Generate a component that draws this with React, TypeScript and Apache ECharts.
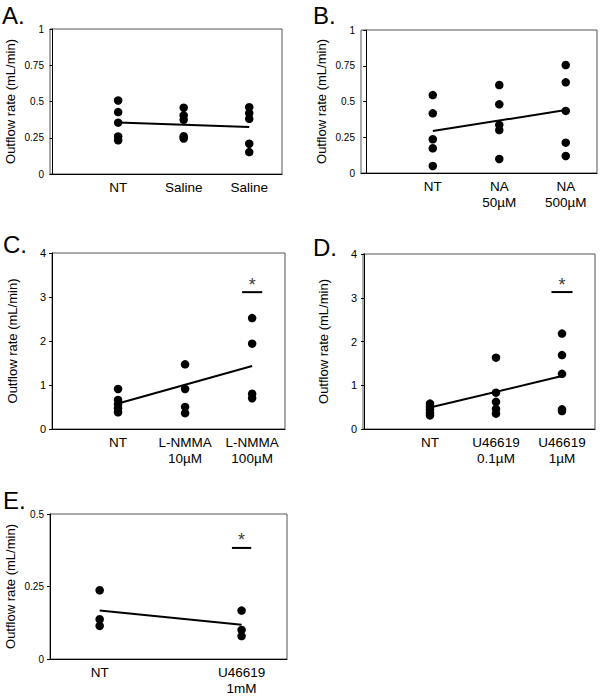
import React, { useEffect, useRef } from "react";
import * as echarts from "echarts";

// ---- Data ----
const catsA = ["NT", "Saline", "Saline"];
const aNT = [0.507, 0.427, 0.354, 0.259, 0.232];
const aSaline1 = [0.457, 0.404, 0.374, 0.26, 0.245];
const aSaline2 = [0.461, 0.42, 0.381, 0.209, 0.151];
const aTrend = [0.356, 0.324];

const catsB = ["NT", "NA\n50µM", "NA\n500µM"];
const bNT = [0.545, 0.417, 0.236, 0.173, 0.049];
const bNA50 = [0.615, 0.48, 0.336, 0.3, 0.098];
const bNA500 = [0.755, 0.634, 0.434, 0.212, 0.119];
const bTrend = [0.294, 0.44];

const catsC = ["NT", "L-NMMA\n10µM", "L-NMMA\n100µM"];
const cNT = [0.91, 0.66, 0.56, 0.47, 0.38];
const cL10 = [1.47, 0.91, 0.5, 0.36];
const cL100 = [2.52, 1.94, 0.8, 0.7];
const cTrend = [0.58, 1.43];
const cSig = 3.11;

const catsD = ["NT", "U46619\n0.1µM", "U46619\n1µM"];
const dNT = [0.58, 0.51, 0.44, 0.37, 0.31];
const dU01 = [1.63, 0.83, 0.62, 0.46, 0.35];
const dU1 = [2.18, 1.69, 1.26, 0.45, 0.41];
const dTrend = [0.49, 1.21];
const dSig = 3.13;

const catsE = ["NT", "U46619\n1mM"];
const eNT = [0.237, 0.137, 0.114];
const eU1mM = [0.167, 0.1, 0.079];
const eTrend = [0.167, 0.118];
const eSig = 0.383;

const yTitle = "Outflow rate (mL/min)";
const FONT = '"Liberation Sans", Arial, Helvetica, sans-serif';

type Panel = {
  letter: string;
  letterPos: [number, number];
  grid: { left: number; top: number; width: number; height: number };
  xMin: number;
  xMax: number;
  yMax: number;
  yInterval: number;
  yFont: number;
  cats: string[];
  groups: number[][];
  trend: number[];
  sig: number | null;
  sigHalf: number;
};

const panels: Panel[] = [
  {
    letter: "A.", letterPos: [2, 15],
    grid: { left: 50, top: 29, width: 232, height: 145 },
    xMin: -0.04, xMax: 3.5, yMax: 1, yInterval: 0.25, yFont: 10,
    cats: catsA, groups: [aNT, aSaline1, aSaline2], trend: aTrend, sig: null, sigHalf: 0,
  },
  {
    letter: "B.", letterPos: [313, 15],
    grid: { left: 361, top: 30, width: 236, height: 143 },
    xMin: -0.08, xMax: 3.47, yMax: 1, yInterval: 0.25, yFont: 10,
    cats: catsB, groups: [bNT, bNA50, bNA500], trend: bTrend, sig: null, sigHalf: 0,
  },
  {
    letter: "C.", letterPos: [3, 244],
    grid: { left: 52, top: 253, width: 233, height: 176 },
    xMin: 0.015, xMax: 3.49, yMax: 4, yInterval: 1, yFont: 11,
    cats: catsC, groups: [cNT, cL10, cL100], trend: cTrend, sig: cSig, sigHalf: 0.15,
  },
  {
    letter: "D.", letterPos: [313, 247],
    grid: { left: 363, top: 254, width: 232, height: 175 },
    xMin: -0.015, xMax: 3.5, yMax: 4, yInterval: 1, yFont: 11,
    cats: catsD, groups: [dNT, dU01, dU1], trend: dTrend, sig: dSig, sigHalf: 0.16,
  },
  {
    letter: "E.", letterPos: [3, 500],
    grid: { left: 50, top: 514, width: 237, height: 150 },
    xMin: 0.65, xMax: 2.32, yMax: 0.5, yInterval: 0.25, yFont: 10,
    cats: catsE, groups: [eNT, eU1mM], trend: eTrend, sig: eSig, sigHalf: 0.068,
  },
];

function buildOption() {
  const grid: any[] = [];
  const xAxis: any[] = [];
  const yAxis: any[] = [];
  const series: any[] = [];
  const graphic: any[] = [];

  panels.forEach((p, i) => {
    grid.push({
      ...p.grid,
      show: true,
      borderColor: "#555",
      borderWidth: 1,
      backgroundColor: "transparent",
    });
    const catValues = p.cats.map((_, k) => k + 1);
    xAxis.push({
      type: "value",
      gridIndex: i,
      min: p.xMin,
      max: p.xMax,
      axisLine: { show: true, onZero: false, lineStyle: { color: "#000", width: 1 } },
      axisTick: { show: false },
      splitLine: { show: false },
      axisLabel: {
        customValues: catValues,
        formatter: (v: number) => p.cats[Math.round(v) - 1] ?? "",
        color: "#000",
        fontFamily: FONT,
        fontSize: 13.5,
        lineHeight: 16,
        margin: 5,
      },
    });
    yAxis.push({
      type: "value",
      gridIndex: i,
      min: 0,
      max: p.yMax,
      interval: p.yInterval,
      name: yTitle,
      nameLocation: "middle",
      nameRotate: 90,
      nameGap: 33,
      nameTextStyle: { color: "#000", fontFamily: FONT, fontSize: 13 },
      axisLine: { show: true, lineStyle: { color: "#000", width: 1 } },
      axisTick: { show: true, length: 3, lineStyle: { color: "#000" } },
      splitLine: { show: false },
      axisLabel: { color: "#000", fontFamily: FONT, fontSize: p.yFont, margin: 6 },
    });

    p.groups.forEach((vals, k) => {
      series.push({
        type: "scatter",
        xAxisIndex: i,
        yAxisIndex: i,
        symbol: "circle",
        symbolSize: 8.5,
        itemStyle: { color: "#000", opacity: 1 },
        data: vals.map((v) => [k + 1, v]),
        silent: true,
      });
    });

    series.push({
      type: "line",
      xAxisIndex: i,
      yAxisIndex: i,
      symbol: "none",
      lineStyle: { color: "#000", width: 2 },
      data: [
        [1, p.trend[0]],
        [p.cats.length, p.trend[1]],
      ],
      silent: true,
    });

    if (p.sig !== null) {
      const c = p.cats.length;
      series.push({
        type: "line",
        xAxisIndex: i,
        yAxisIndex: i,
        symbol: "none",
        lineStyle: { color: "#000", width: 2 },
        data: [
          [c - p.sigHalf, p.sig],
          [c + p.sigHalf, p.sig],
        ],
        silent: true,
      });
      series.push({
        type: "scatter",
        xAxisIndex: i,
        yAxisIndex: i,
        symbol: "circle",
        symbolSize: 1,
        itemStyle: { color: "rgba(0,0,0,0)" },
        label: {
          show: true,
          formatter: "*",
          position: "top",
          distance: -2,
          color: "#000",
          fontFamily: FONT,
          fontSize: 18,
        },
        data: [[c, p.sig]],
        silent: true,
      });
    }

    graphic.push({
      type: "text",
      x: p.letterPos[0],
      y: p.letterPos[1],
      style: {
        text: p.letter,
        font: `24px ${FONT}`,
        fill: "#000",
        verticalAlign: "middle",
        align: "left",
      },
    });
  });

  return {
    animation: false,
    backgroundColor: "#fff",
    grid,
    xAxis,
    yAxis,
    series,
    graphic,
  };
}

export default function App() {
  const ref = useRef<HTMLDivElement>(null);
  useEffect(() => {
    if (!ref.current) return;
    const chart = echarts.init(ref.current, undefined, { renderer: "svg" });
    chart.setOption(buildOption() as any);
    return () => chart.dispose();
  }, []);
  return (
    <div
      ref={ref}
      style={{ position: "fixed", left: 0, top: 0, width: 600, height: 696, background: "#fff" }}
    />
  );
}
